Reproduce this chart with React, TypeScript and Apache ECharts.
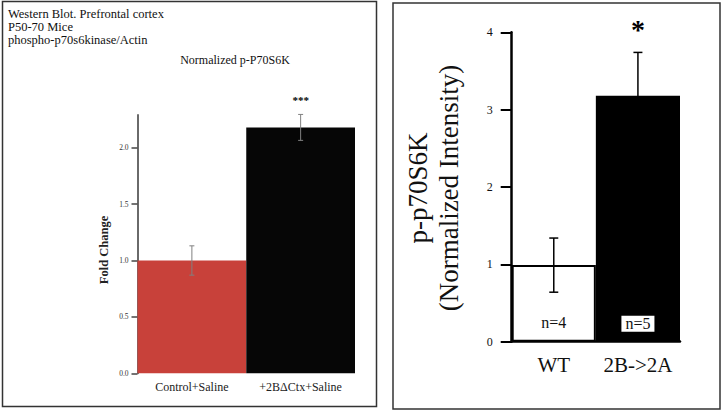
import React, { useEffect, useRef } from "react";
import * as echarts from "echarts";

const leftCategories = ["Control+Saline", "+2BΔCtx+Saline"];
const leftValues = [1.0, 2.18];
const leftErrors = [0.13, 0.115];
const leftSig = ["", "***"];
const leftTicks = [0, 0.5, 1.0, 1.5, 2.0];
const leftColors = ["#c8413a", "#060606"];

const rightCategories = ["WT", "2B->2A"];
const rightValues = [0.99, 3.18];
const rightErrors = [0.35, 0.56];
const rightSig = ["", "*"];
const rightN = ["n=4", "n=5"];

const SERIF = "'Liberation Serif', 'DejaVu Serif', serif";

function errorRender(sig: string[], color: string, width: number, cap: number, sigFont: string, sigGap: number) {
  return (params: any, api: any) => {
    const i = params.dataIndex;
    const x = api.value(0);
    const v = api.value(1);
    const e = api.value(2);
    const top = api.coord([x, v + e]);
    const bot = api.coord([x, v - e]);
    const style = { stroke: color, lineWidth: width };
    const children: any[] = [
      { type: "line", shape: { x1: top[0], y1: top[1], x2: bot[0], y2: bot[1] }, style },
      { type: "line", shape: { x1: top[0] - cap / 2, y1: top[1], x2: top[0] + cap / 2, y2: top[1] }, style },
      { type: "line", shape: { x1: bot[0] - cap / 2, y1: bot[1], x2: bot[0] + cap / 2, y2: bot[1] }, style },
    ];
    if (sig[i]) {
      children.push({
        type: "text",
        x: top[0],
        y: top[1] - sigGap,
        style: { text: sig[i], font: sigFont, fill: "#000", align: "center", verticalAlign: "middle" },
      });
    }
    return { type: "group", children };
  };
}

export default function App() {
  const ref = useRef<HTMLDivElement>(null);
  useEffect(() => {
    if (!ref.current) return;
    const chart = echarts.init(ref.current, null, { renderer: "svg" });
    const option: any = {
      animation: false,
      backgroundColor: "#fff",
      grid: [
        { left: 137.5, top: 115, width: 217.5, height: 258.3 },
        { left: 511.7, top: 32.3, width: 168.3, height: 309.4 },
      ],
      xAxis: [
        {
          type: "category",
          gridIndex: 0,
          data: leftCategories,
          axisLine: { show: false },
          axisTick: { show: false },
          axisLabel: { interval: 0, fontFamily: SERIF, fontSize: 12, color: "#222", margin: 8 },
        },
        {
          type: "category",
          gridIndex: 1,
          data: rightCategories,
          axisLine: { show: true, lineStyle: { color: "#000", width: 2.5 } },
          axisTick: { show: false },
          axisLabel: { interval: 0, hideOverlap: false, fontFamily: SERIF, fontSize: 21, color: "#111", margin: 13 },
        },
      ],
      yAxis: [
        {
          type: "value",
          gridIndex: 0,
          min: 0,
          max: 2.29,
          splitLine: { show: false },
          axisLine: { show: true, lineStyle: { color: "#6a6a6a", width: 2 } },
          axisTick: { show: true, length: 6, customValues: leftTicks, lineStyle: { color: "#444", width: 1.5 } },
          axisLabel: {
            customValues: leftTicks,
            fontFamily: SERIF,
            fontSize: 7.5,
            color: "#333",
            margin: 9,
            formatter: (v: number) => v.toFixed(1),
          },
        },
        {
          type: "value",
          gridIndex: 1,
          min: 0,
          max: 4,
          interval: 1,
          splitLine: { show: false },
          axisLine: { show: true, lineStyle: { color: "#000", width: 2.5 } },
          axisTick: { show: true, length: 11, lineStyle: { color: "#000", width: 2 } },
          axisLabel: { fontFamily: SERIF, fontSize: 12, color: "#111", margin: 19 },
        },
      ],
      series: [
        {
          type: "bar",
          xAxisIndex: 0,
          yAxisIndex: 0,
          barCategoryGap: "0%",
          data: leftValues.map((v, i) => ({ value: v, itemStyle: { color: leftColors[i] } })),
        },
        {
          type: "custom",
          xAxisIndex: 0,
          yAxisIndex: 0,
          z: 5,
          encode: { x: 0, y: 1 },
          data: leftValues.map((v, i) => [i, v, leftErrors[i]]),
          renderItem: errorRender(leftSig, "#808080", 1, 5, `bold 11px ${SERIF}`, 14),
        },
        {
          type: "bar",
          xAxisIndex: 1,
          yAxisIndex: 1,
          barCategoryGap: "0%",
          data: rightValues.map((v, i) =>
            i === 0
              ? {
                  value: v,
                  itemStyle: { color: "#fff", borderColor: "#000", borderWidth: 2 },
                  label: {
                    show: true,
                    position: "insideBottom",
                    distance: 11,
                    formatter: rightN[i],
                    fontFamily: SERIF,
                    fontSize: 16,
                    color: "#111",
                  },
                }
              : {
                  value: v,
                  itemStyle: { color: "#000" },
                  label: {
                    show: true,
                    position: "insideBottom",
                    distance: 10,
                    formatter: rightN[i],
                    fontFamily: SERIF,
                    fontSize: 16,
                    color: "#111",
                    backgroundColor: "#fff",
                    borderColor: "#000",
                    borderWidth: 1,
                    padding: [0, 4, 0, 4],
                  },
                }
          ),
        },
        {
          type: "custom",
          xAxisIndex: 1,
          yAxisIndex: 1,
          z: 5,
          encode: { x: 0, y: 1 },
          data: rightValues.map((v, i) => [i, v, rightErrors[i]]),
          renderItem: errorRender(rightSig, "#000", 1.5, 9, `bold 28px ${SERIF}`, 23),
        },
      ],
      graphic: [
        {
          type: "rect",
          shape: { x: 2.5, y: 1.5, width: 374, height: 405 },
          style: { fill: "none", stroke: "#333", lineWidth: 1.5 },
        },
        {
          type: "rect",
          shape: { x: 393, y: 3, width: 327, height: 406 },
          style: { fill: "none", stroke: "#333", lineWidth: 1.5 },
        },
        {
          type: "text",
          x: 8,
          y: 7,
          style: {
            text: "Western Blot. Prefrontal cortex\nP50-70 Mice\nphospho-p70s6kinase/Actin",
            font: `12.5px ${SERIF}`,
            lineHeight: 13.3,
            fill: "#111",
          },
        },
        {
          type: "text",
          x: 235,
          y: 60,
          style: { text: "Normalized p-P70S6K", font: `12px ${SERIF}`, fill: "#111", align: "center", verticalAlign: "middle" },
        },
        {
          type: "text",
          x: 104,
          y: 250,
          rotation: Math.PI / 2,
          style: { text: "Fold Change", font: `bold 12.5px ${SERIF}`, fill: "#222", align: "center", verticalAlign: "middle" },
        },
        {
          type: "text",
          x: 433,
          y: 188,
          rotation: Math.PI / 2,
          style: {
            text: "p-p70S6K\n(Normalized Intensity)",
            font: `27px ${SERIF}`,
            lineHeight: 31,
            fill: "#111",
            align: "center",
            verticalAlign: "middle",
          },
        },
      ],
    };
    chart.setOption(option);
    return () => chart.dispose();
  }, []);
  return <div ref={ref} style={{ position: "fixed", left: 0, top: 0, width: 723, height: 413 }} />;
}
